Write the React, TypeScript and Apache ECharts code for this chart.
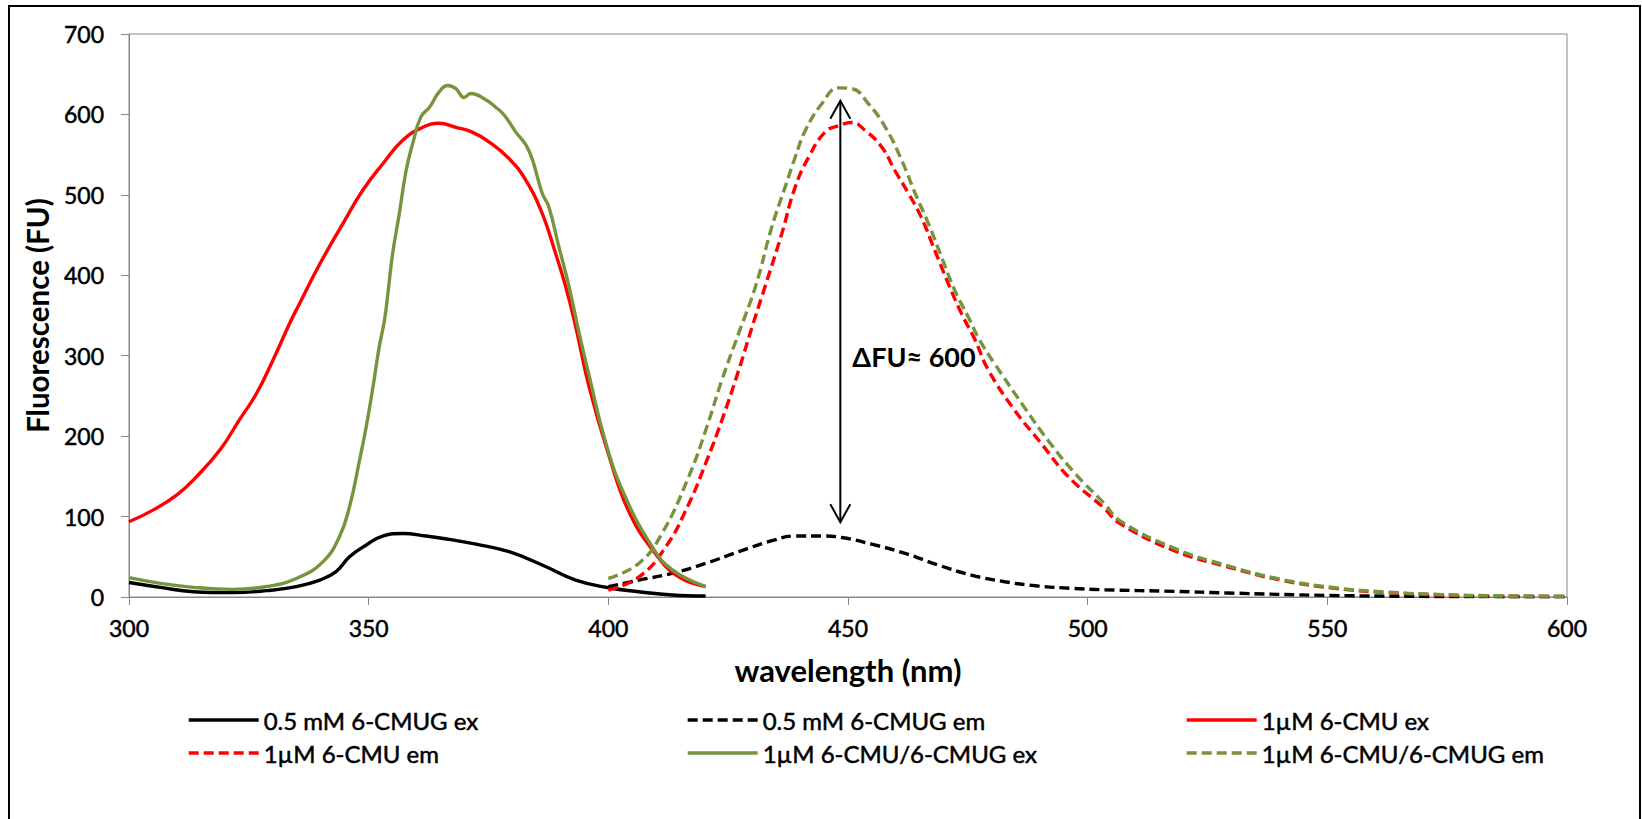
import { useEffect, useRef } from "react";
import * as echarts from "echarts";

// ---- Data ----
const nmExBlack = [300, 306.5, 313.4, 321.7, 328.7, 334.9, 339.8, 343.2, 346, 349.5, 352.9, 357.1, 362, 366.8, 372.4, 379.3, 386.2, 393.2, 400.1, 406.4, 413.3, 420.3];
const fuExBlack = [18, 12, 6.6, 5.4, 7.9, 12.8, 21, 31.5, 50, 64.6, 75.8, 79, 75.8, 71.6, 65.8, 56.3, 39.8, 21, 11.5, 6.6, 2.5, 1.2];

const nmEmBlack = [400, 406.4, 413.3, 420.3, 427.2, 434.1, 439, 444.5, 448.7, 454.9, 461.9, 468.8, 475.7, 482.7, 489.6, 496.6, 503.5, 518, 529, 550, 575, 600];
const fuEmBlack = [12.8, 21, 29.4, 41.8, 56.3, 70, 75.8, 75.8, 74, 65.8, 54.3, 39.8, 27.3, 19, 13.7, 10.8, 9, 7, 5, 2, 0.6, 0.3];

const nmExRed = [300, 305, 310, 314, 319, 323, 326.6, 330, 333.5, 335.6, 339.8, 344.6, 348.8, 353, 357.1, 361.3, 364.7, 368.2, 371.6, 375.1, 379.3, 382.8, 386.2, 389, 391.1, 393.2, 396, 400, 404.3, 409.8, 414.7, 420.3];
const fuExRed = [93.5, 108, 127, 149, 183, 220, 253, 294, 340, 365, 414, 464, 506, 539, 568, 584, 589, 584, 578, 566, 545, 518, 477, 427, 386, 336, 261, 178, 106, 54, 25, 13];

const nmEmRed = [400, 406.4, 412, 416.8, 420.3, 423.7, 427.2, 430, 432.7, 436.2, 439, 441.8, 445.2, 448, 450.8, 453.6, 457.1, 459.8, 462.6, 465.3, 468.1, 470.9, 473.7, 476.4, 479.3, 484.8, 490.3, 495.9, 503.5, 506.7, 517.9, 529.1, 540.3, 551.5, 562.7, 573.9, 585.1, 600];
const fuEmRed = [8.7, 25, 62.5, 116, 166, 220, 282, 336, 386, 452, 510, 547, 578, 586, 590, 580, 559, 530, 502, 472, 431, 390, 352, 321, 282, 232, 191, 150, 110, 91.5, 58, 37.6, 21, 10.8, 5.4, 2.5, 1.2, 0.8];

const nmExGreen = [300, 306.5, 313.4, 321.7, 328.7, 334.9, 340.5, 343.9, 346, 348.1, 349.5, 350.9, 352.2, 353.3, 354, 355, 356.4, 357.8, 359.2, 360.9, 362.7, 364.7, 366.5, 368.2, 369.9, 371.3, 374.5, 376.5, 378.3, 380.7, 382.8, 384.2, 386.2, 387.6, 389.7, 391.8, 393.9, 396, 399.4, 403.2, 409.1, 413.3, 420.3];
const fuExGreen = [24, 17, 12, 9.5, 13, 23, 44, 75, 112, 170, 212, 261, 311, 344, 377, 427, 477, 530, 564, 597, 609, 628, 636, 632, 621, 626, 618, 609, 599, 578, 562, 543, 502, 485, 435, 386, 328, 275, 193, 129, 63, 34, 13];

const nmEmGreen = [400, 406.4, 411.2, 416.8, 420.3, 423.7, 427.2, 430.7, 434.1, 436.9, 439, 441.1, 444.5, 448, 450.8, 454.3, 457.8, 461.2, 464, 466.8, 469.5, 472.3, 475.1, 477.5, 480.6, 486.2, 491.7, 497.3, 503.5, 506.7, 517.9, 529.1, 540.3, 551.5, 562.7, 573.9, 585.1, 600];
const fuEmGreen = [23, 42, 79, 150, 207, 270, 328, 386, 460, 510, 547, 580, 613, 633, 632, 613, 584, 543, 502, 464, 423, 381, 348, 319, 290, 241, 195, 154, 116, 95, 61, 39, 22, 11.5, 6, 3, 1.5, 1];

const seriesNames = [
  "0.5 mM 6-CMUG ex",
  "0.5 mM 6-CMUG em",
  "1µM 6-CMU ex",
  "1µM 6-CMU em",
  "1µM 6-CMU/6-CMUG ex",
  "1µM 6-CMU/6-CMUG em",
];

const xTicks = { min: 300, max: 600, interval: 50 };
const yTicks = { min: 0, max: 700, interval: 100 };

// annotation (data coordinates)
const arrowNm = 448.4;
const arrowTopFU = 617;
const arrowBottomFU = 93;
const annotText = "ΔFU≈ 600";
const annotNm = 450.9;
const annotFU = 299;

const FONT = "Lato, 'DejaVu Sans', sans-serif";
const GREEN = "#77933C";

function pairs(xs: number[], ys: number[]) {
  return xs.map((x, i) => [x, ys[i]]);
}

export default function App() {
  const ref = useRef<HTMLDivElement>(null);

  useEffect(() => {
    if (!ref.current) return;
    const chart = echarts.init(ref.current, undefined, { renderer: "svg" });

    const dash = [10, 5];
    const mk = (name: string, data: number[][], color: string, dashed: boolean) => ({
      name,
      type: "line",
      data,
      symbol: "none",
      showSymbol: false,
      smooth: 0.45,
      color,
      lineStyle: { color, width: 3.4, type: dashed ? dash : "solid" },
      z: 3,
    });

    const thick = { textBorderColor: "#000", textBorderWidth: 0.5 };

    const legendCommon = {
      orient: "vertical",
      itemWidth: 70,
      itemHeight: 14,
      itemGap: 7,
      selectedMode: false,
      itemStyle: { opacity: 0 },
      lineStyle: { width: 3.4 },
      textStyle: { fontFamily: FONT, fontSize: 24, color: "#000", lineHeight: 26, ...thick },
    };

    chart.setOption({
      animation: false,
      backgroundColor: "#fff",
      grid: {
        left: 129,
        right: 75,
        top: 34,
        bottom: 222,
        show: true,
        borderColor: "#888",
        borderWidth: 1,
        containLabel: false,
      },
      xAxis: {
        type: "value",
        min: xTicks.min,
        max: xTicks.max,
        interval: xTicks.interval,
        name: "wavelength (nm)",
        nameLocation: "middle",
        nameGap: 57,
        nameTextStyle: { fontFamily: FONT, fontSize: 31, fontWeight: "bold", color: "#000" },
        axisLine: { show: true, lineStyle: { color: "#888", width: 1 } },
        axisTick: { show: true, length: 8, lineStyle: { color: "#888" } },
        axisLabel: { fontFamily: FONT, fontSize: 23, color: "#000", margin: 19, ...thick },
        splitLine: { show: false },
      },
      yAxis: {
        type: "value",
        min: yTicks.min,
        max: yTicks.max,
        interval: yTicks.interval,
        name: "Fluorescence (FU)",
        nameLocation: "middle",
        nameRotate: 90,
        nameGap: 74,
        nameTextStyle: { fontFamily: FONT, fontSize: 29.5, fontWeight: "bold", color: "#000" },
        axisLine: { show: true, lineStyle: { color: "#888", width: 1 } },
        axisTick: { show: true, length: 8, lineStyle: { color: "#888" } },
        axisLabel: { fontFamily: FONT, fontSize: 23, color: "#000", margin: 25, ...thick },
        splitLine: { show: false },
      },
      legend: [
        { ...legendCommon, left: 182, top: 702, data: [seriesNames[0], seriesNames[3]] },
        { ...legendCommon, left: 681, top: 702, data: [seriesNames[1], seriesNames[4]] },
        { ...legendCommon, left: 1180, top: 702, data: [seriesNames[2], seriesNames[5]] },
      ],
      series: [
        mk(seriesNames[0], pairs(nmExBlack, fuExBlack), "#000000", false),
        mk(seriesNames[1], pairs(nmEmBlack, fuEmBlack), "#000000", true),
        mk(seriesNames[2], pairs(nmExRed, fuExRed), "#FF0000", false),
        mk(seriesNames[3], pairs(nmEmRed, fuEmRed), "#FF0000", true),
        mk(seriesNames[4], pairs(nmExGreen, fuExGreen), GREEN, false),
        mk(seriesNames[5], pairs(nmEmGreen, fuEmGreen), GREEN, true),
      ],
    });

    const top = chart.convertToPixel({ gridIndex: 0 }, [arrowNm, arrowTopFU]) as number[];
    const bot = chart.convertToPixel({ gridIndex: 0 }, [arrowNm, arrowBottomFU]) as number[];
    const txt = chart.convertToPixel({ gridIndex: 0 }, [annotNm, annotFU]) as number[];
    const hw = 10;
    const hh = 18;
    const stroke = { stroke: "#000", lineWidth: 2, fill: "none" };

    chart.setOption({
      graphic: [
        {
          type: "rect",
          shape: { x: 9, y: 6, width: 1631, height: 830 },
          style: { stroke: "#000", lineWidth: 2, fill: "none" },
          silent: true,
          z: 0,
        },
        {
          type: "line",
          shape: { x1: top[0], y1: top[1], x2: bot[0], y2: bot[1] },
          style: stroke,
          z: 10,
        },
        {
          type: "polyline",
          shape: { points: [[top[0] - hw, top[1] + hh], [top[0], top[1]], [top[0] + hw, top[1] + hh]] },
          style: stroke,
          z: 10,
        },
        {
          type: "polyline",
          shape: { points: [[bot[0] - hw, bot[1] - hh], [bot[0], bot[1]], [bot[0] + hw, bot[1] - hh]] },
          style: stroke,
          z: 10,
        },
        {
          type: "text",
          x: txt[0],
          y: txt[1],
          style: {
            text: annotText,
            fontFamily: FONT,
            fontSize: 27,
            fontWeight: "bold",
            fill: "#000",
            textAlign: "left",
            textVerticalAlign: "middle",
          },
          z: 10,
        },
      ],
    });

    return () => chart.dispose();
  }, []);

  return (
    <div
      ref={ref}
      style={{ position: "fixed", left: 0, top: 0, width: 1642, height: 819, background: "#fff" }}
    />
  );
}
